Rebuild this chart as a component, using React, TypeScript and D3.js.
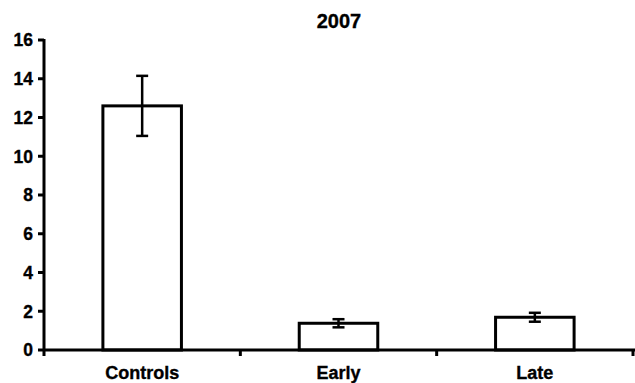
import React from "react";
import * as d3 from "d3";

const categories = ["Controls", "Early", "Late"];
const means = [12.6, 1.38, 1.69];
const errors = [1.55, 0.21, 0.23];
const yTicks = [0, 2, 4, 6, 8, 10, 12, 14, 16];
const title = "2007";

const W = 635;
const H = 383;
const left = 44;
const right = 633;
const top = 40;
const bottom = 350;
const FONT = "'Liberation Sans', Arial, Helvetica, sans-serif";

export default function App() {
  const x = d3.scaleBand<string>().domain(categories).range([left, right]).paddingInner(0).paddingOuter(0);
  const y = d3.scaleLinear().domain([0, 16]).range([bottom, top]);
  const barW = x.bandwidth() * 0.4;
  const capW = 12;
  const bandEdges = categories.map((c) => (x(c) as number) + x.bandwidth());
  const textStroke = { stroke: "#000", strokeWidth: 0.35 };

  return (
    <svg width={W} height={H} style={{ position: "absolute", left: 0, top: 0 }} fontFamily={FONT}>
      <rect x={0} y={0} width={W} height={H} fill="#fff" />
      <text x={339} y={28} textAnchor="middle" fontSize={20} fontWeight="bold" {...textStroke}>
        {title}
      </text>
      {categories.map((c, i) => {
        const cx = (x(c) as number) + x.bandwidth() / 2;
        const yt = y(means[i] + errors[i]);
        const yb = y(means[i] - errors[i]);
        return (
          <g key={c}>
            <rect
              x={cx - barW / 2}
              y={y(means[i])}
              width={barW}
              height={bottom - y(means[i])}
              fill="#fff"
              stroke="#000"
              strokeWidth={3}
            />
            <line x1={cx} x2={cx} y1={yt} y2={yb} stroke="#000" strokeWidth={2.5} />
            <line x1={cx - capW / 2} x2={cx + capW / 2} y1={yt} y2={yt} stroke="#000" strokeWidth={2.5} />
            <line x1={cx - capW / 2} x2={cx + capW / 2} y1={yb} y2={yb} stroke="#000" strokeWidth={2.5} />
            <text x={cx} y={379} textAnchor="middle" fontSize={18} fontWeight="bold" {...textStroke}>
              {c}
            </text>
          </g>
        );
      })}
      {/* y axis */}
      <line x1={left} x2={left} y1={top - 1} y2={bottom + 6} stroke="#000" strokeWidth={3} />
      {yTicks.map((t) => (
        <g key={t}>
          <line x1={left - 6} x2={left} y1={y(t)} y2={y(t)} stroke="#000" strokeWidth={3} />
          <text x={33} y={y(t)} dy="0.36em" textAnchor="end" fontSize={17.5} fontWeight="bold" {...textStroke}>
            {t}
          </text>
        </g>
      ))}
      {/* x axis */}
      <line x1={left} x2={right + 2} y1={bottom} y2={bottom} stroke="#000" strokeWidth={3} />
      {bandEdges.map((e, i) => (
        <line key={i} x1={e} x2={e} y1={bottom} y2={bottom + 6} stroke="#000" strokeWidth={3} />
      ))}
    </svg>
  );
}
